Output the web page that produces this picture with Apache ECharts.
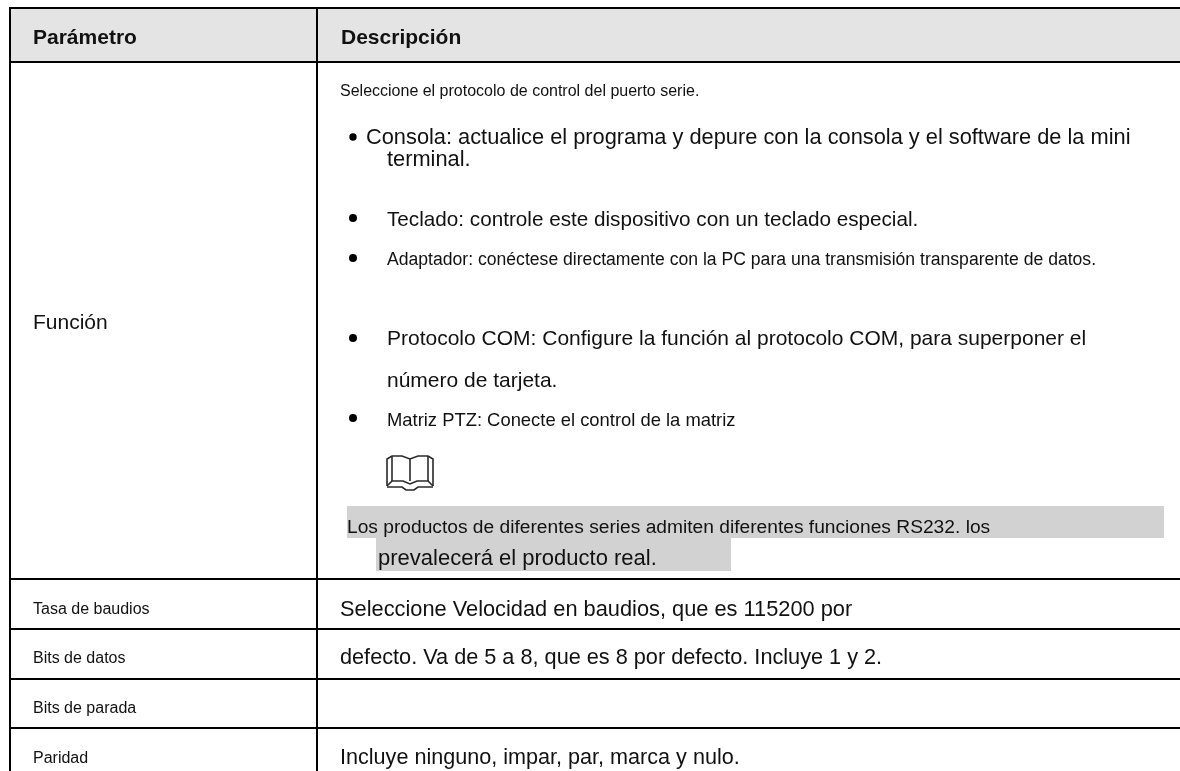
<!DOCTYPE html>
<html>
<head>
<meta charset="utf-8">
<style>html,body{margin:0;padding:0;background:#fff}#c{width:1180px;height:771px}</style>
<script src="https://cdn.jsdelivr.net/npm/echarts@6/dist/echarts.min.js"></script>
</head>
<body>
<div id="c"></div>
<script>
const headers = ['Parámetro', 'Descripción'];
const parameters = ['Función', 'Tasa de baudios', 'Bits de datos', 'Bits de parada', 'Paridad'];
const intro = 'Seleccione el protocolo de control del puerto serie.';
const consola = ['Consola: actualice el programa y depure con la consola y el software de la mini', 'terminal.'];
const teclado = 'Teclado: controle este dispositivo con un teclado especial.';
const adaptador = 'Adaptador: conéctese directamente con la PC para una transmisión transparente de datos.';
const protocolo = ['Protocolo COM: Configure la función al protocolo COM, para superponer el', 'número de tarjeta.'];
const matriz = 'Matriz PTZ: Conecte el control de la matriz';
const nota = ['Los productos de diferentes series admiten diferentes funciones RS232. los', 'prevalecerá el producto real.'];
const descriptions = ['Seleccione Velocidad en baudios, que es 115200 por', 'defecto. Va de 5 a 8, que es 8 por defecto. Incluye 1 y 2.', 'Incluye ninguno, impar, par, marca y nulo.'];

const FF = '"Liberation Sans", Arial, sans-serif';
const els = [];
const rect = (x, y, w, h, fill) => els.push({type:'rect', shape:{x, y, width:w, height:h}, style:{fill}, silent:true});
const hLine = y => rect(9, y-1, 1171, 2, '#000');
const vLine = x => rect(x-1, 7, 2, 764, '#000');
const text = (s, x, y, size, bold) => els.push({type:'text', x, y:y+0.5, style:{text:s, fill:'#111', font:(bold?'bold ':'')+size+'px '+FF, textVerticalAlign:'middle', textAlign:'left'}, silent:true});
const bullet = (x, y, r) => els.push({type:'circle', shape:{cx:x, cy:y, r:r||4}, style:{fill:'#000'}, silent:true});
const poly = (points, w) => els.push({type:'polyline', shape:{points}, style:{fill:'none', stroke:'#2a2a2a', lineWidth:w||1.6}, silent:true});

rect(10, 8, 1170, 54, '#e4e4e4');
rect(347, 506, 817, 32, '#d2d2d2');
rect(376, 538, 355, 33, '#d2d2d2');
[8, 62, 579, 629, 679, 728].forEach(hLine);
[10, 317].forEach(vLine);

text(headers[0], 33, 38, 21, true);
text(headers[1], 341, 38, 21, true);
text(parameters[0], 33, 323, 21);
text(parameters[1], 33, 609, 16);
text(parameters[2], 33, 658, 16);
text(parameters[3], 33, 708, 16);
text(parameters[4], 33, 758, 16);

text(intro, 340, 91, 16);
bullet(353, 137, 3.7);
text(consola[0], 366, 137, 21.8);
text(consola[1], 387, 159, 21.8);
bullet(353, 218);
text(teclado, 387, 220, 20.7);
bullet(353, 258);
text(adaptador, 387, 260, 17.6);
bullet(353, 338);
text(protocolo[0], 387, 339, 21);
text(protocolo[1], 387, 381, 21);
bullet(353, 418);
text(matriz, 387, 420, 18.4);
text(nota[0], 347, 527, 19.2);
text(nota[1], 378, 558, 22);
text(descriptions[0], 340, 609, 21.8);
text(descriptions[1], 340, 658, 21.7);
text(descriptions[2], 340, 758, 21.6);

poly([[387,486],[387,459],[392,456],[402,456],[410,459],[418,456],[428,456],[433,459],[433,486]]);
poly([[392,456],[392,481]]);
poly([[428,456],[428,481]]);
poly([[410,459],[410,481]]);
poly([[387,486],[392,481],[403,481],[410,484],[417,481],[428,481],[433,486]]);
poly([[387,487],[402,487],[406,490],[414,490],[418,487],[433,487]]);

const chart = echarts.init(document.getElementById('c'), null, {renderer:'canvas'});
chart.setOption({animation:false, backgroundColor:'#fff', graphic:{elements:els}});
</script>
</body>
</html>
